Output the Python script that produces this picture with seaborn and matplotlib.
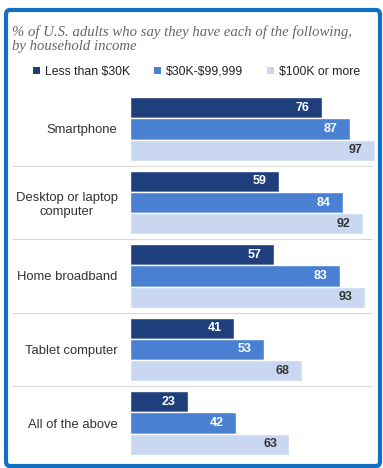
import matplotlib
matplotlib.use("Agg")
import matplotlib.pyplot as plt
import matplotlib.transforms as mtransforms
from matplotlib.patches import FancyBboxPatch, Patch
import pandas as pd
import seaborn as sns

categories = ["Smartphone", "Desktop or laptop\ncomputer", "Home broadband",
              "Tablet computer", "All of the above"]
income_groups = ["Less than $30K", "$30K-$99,999", "$100K or more"]
low_income = [76, 59, 57, 41, 23]
mid_income = [87, 84, 83, 53, 42]
high_income = [97, 92, 93, 68, 63]

colors = ["#1e3f7c", "#4a80d2", "#c9d8f0"]
label_colors = ["white", "white", "#333333"]

rows = []
for series, name in zip([low_income, mid_income, high_income], income_groups):
    for cat, v in zip(categories, series):
        rows.append({"item": cat, "income": name, "pct": v})
df = pd.DataFrame(rows)

sns.set_theme(style="white")
plt.rcParams["font.family"] = ["Liberation Sans", "DejaVu Sans"]
plt.rcParams["text.parse_math"] = False

W, H = 383, 468
fig = plt.figure(figsize=(W / 100, H / 100), dpi=100)
fig.patch.set_facecolor("white")

# axes: x scale ~2.53 px per percentage point, 73.5 px per category
ax_left, ax_w = 130, 253
ax_top, ax_h = 92.25, 367.5
ax = fig.add_axes([ax_left / W, 1 - (ax_top + ax_h) / H, ax_w / W, ax_h / H])

sns.barplot(data=df, y="item", x="pct", hue="income", order=categories,
            hue_order=income_groups, palette=colors, orient="h",
            width=0.86, ax=ax, legend=False, saturation=1)

ax.set_xlim(0, 100)
ax.set_ylim(len(categories) - 0.5, -0.5)
ax.set_xlabel("")
ax.set_ylabel("")
ax.set_xticks([])
for s in ax.spines.values():
    s.set_visible(False)
ax.tick_params(axis="y", length=0, pad=9, labelsize=9.4, labelcolor="#333333")
for t in ax.get_yticklabels():
    t.set_multialignment("center")

# value labels inside the bar ends
for container, lc in zip(ax.containers, label_colors):
    ax.bar_label(container, labels=[f"{int(v)}" for v in container.datavalues],
                 padding=-19, color=lc, fontsize=9, fontweight="bold")

# separators between categories
blend = mtransforms.blended_transform_factory(fig.transFigure, ax.transData)
for y in [0.5, 1.5, 2.5, 3.5]:
    ax.plot([12 / W, 372 / W], [y, y], color="#d9d9d9", lw=0.8,
            transform=blend, clip_on=False)

# title
fig.text(12 / W, 1 - 25 / H,
         "% of U.S. adults who say they have each of the following,\nby household income",
         ha="left", va="top", fontsize=10.6, style="italic", color="#666666",
         family=["Liberation Serif", "DejaVu Serif"], linespacing=1.15)

# legend
handles = [Patch(facecolor=c, edgecolor="none") for c in colors]
fig.legend(handles, income_groups, loc="center left",
           bbox_to_anchor=(22 / W, 1 - 72 / H), ncol=3, frameon=False,
           fontsize=8.8, handlelength=0.55, handleheight=0.55, handletextpad=0.4,
           columnspacing=2.0, labelcolor="#222222")

# frame around the figure
frame = FancyBboxPatch((6 / W, 2 / H), 374 / W, 456 / H,
                       boxstyle="round,pad=0,rounding_size=0.01",
                       transform=fig.transFigure, facecolor="none",
                       edgecolor="#1170c4", lw=3.0, zorder=10)
fig.patches.append(frame)

fig.savefig("out.png", dpi=100, facecolor="white")
